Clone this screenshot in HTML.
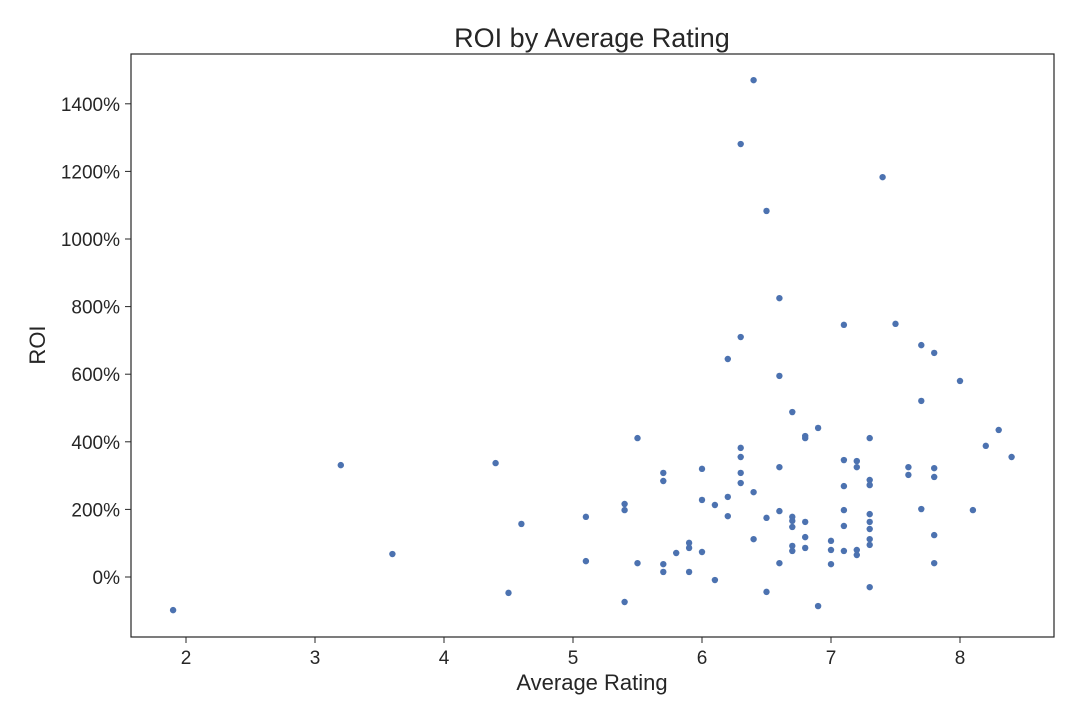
<!DOCTYPE html>
<html><head><meta charset="utf-8"><style>
body{margin:0;background:#fff;font-family:"Liberation Sans",sans-serif;}
</style></head><body>
<svg id="chart" width="1080" height="720" xmlns="http://www.w3.org/2000/svg">
<rect width="1080" height="720" fill="#fff"/>
<text x="592" y="47" text-anchor="middle" font-size="27" fill="#262626">ROI by Average Rating</text>
<g id="axes"></g>
<g id="points"></g>
<rect x="131" y="54" width="923" height="583" fill="none" stroke="#262626" stroke-width="1.2"/>
<text x="592" y="690" text-anchor="middle" font-size="22" fill="#262626">Average Rating</text>
<text x="45" y="345" text-anchor="middle" font-size="22" fill="#262626" transform="rotate(-90 45 345)">ROI</text>
</svg>
<script>
const ratings=[1.9,3.2,3.6,4.4,4.5,4.6,5.1,5.1,5.4,5.4,5.4,5.5,5.5,5.7,5.7,5.7,5.7,5.8,5.9,5.9,5.9,6.0,6.0,6.0,6.1,6.1,6.2,6.2,6.2,6.3,6.3,6.3,6.3,6.3,6.3,6.4,6.4,6.4,6.5,6.5,6.5,6.6,6.6,6.6,6.6,6.6,6.7,6.7,6.7,6.7,6.7,6.7,6.8,6.8,6.8,6.8,6.8,6.9,6.9,7.0,7.0,7.0,7.1,7.1,7.1,7.1,7.1,7.1,7.2,7.2,7.2,7.2,7.3,7.3,7.3,7.3,7.3,7.3,7.3,7.3,7.3,7.4,7.5,7.6,7.6,7.7,7.7,7.7,7.8,7.8,7.8,7.8,7.8,8.0,8.1,8.2,8.3,8.4];
const roiValues=[-98,331,68,337,-47,157,178,47,216,198,-74,411,41,308,284,38,15,71,101,86,15,320,228,74,213,-9,645,237,180,1281,710,382,355,308,278,1470,251,112,1083,175,-44,825,595,325,195,41,488,178,166,148,92,77,417,411,163,118,86,441,-86,107,80,38,746,346,269,198,151,77,343,325,80,65,411,287,272,186,163,142,112,95,-30,1183,749,325,302,686,521,201,663,322,296,124,41,580,198,388,435,355];
const xTicks=[2,3,4,5,6,7,8];
const yTicks=[0,200,400,600,800,1000,1200,1400];
const NS="http://www.w3.org/2000/svg";
function xScale(v){return 186+(v-2)*129;}
function yScale(v){return 577-v*0.338;}
const axes=document.getElementById('axes');
xTicks.forEach(t=>{
  const l=document.createElementNS(NS,'line');
  l.setAttribute('x1',xScale(t));l.setAttribute('x2',xScale(t));l.setAttribute('y1',637);l.setAttribute('y2',643);
  l.setAttribute('stroke','#262626');
  
  
  axes.appendChild(l);
  const tx=document.createElementNS(NS,'text');
  tx.setAttribute('x',xScale(t));tx.setAttribute('y',664);tx.setAttribute('text-anchor','middle');
  tx.setAttribute('font-size','19');tx.setAttribute('fill','#262626');tx.textContent=t;
  
  
  axes.appendChild(tx);
});
yTicks.forEach(t=>{
  const l=document.createElementNS(NS,'line');
  l.setAttribute('x1',125);l.setAttribute('x2',131);l.setAttribute('y1',yScale(t));l.setAttribute('y2',yScale(t));
  l.setAttribute('stroke','#262626');
  
  
  axes.appendChild(l);
  const tx=document.createElementNS(NS,'text');
  tx.setAttribute('x',120);tx.setAttribute('y',yScale(t)+7);tx.setAttribute('text-anchor','end');
  tx.setAttribute('font-size','19');tx.setAttribute('fill','#262626');tx.textContent=t+'%';
  
  
  axes.appendChild(tx);
});
const pts=document.getElementById('points');
ratings.forEach((r,i)=>{
  const c=document.createElementNS(NS,'circle');
  c.setAttribute('cx',xScale(r));c.setAttribute('cy',yScale(roiValues[i]));c.setAttribute('r',3.2);
  c.setAttribute('fill','#4c72b0');
  
  
  pts.appendChild(c);
});
</script>
</body></html>
